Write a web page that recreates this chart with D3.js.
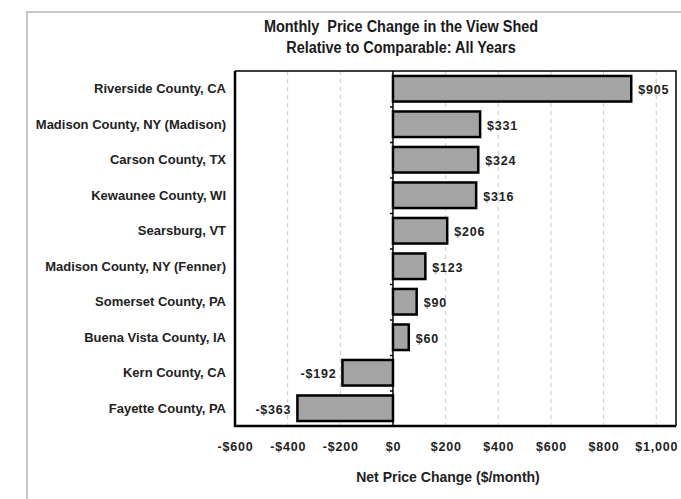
<!DOCTYPE html>
<html>
<head>
<meta charset="utf-8">
<script src="https://cdn.jsdelivr.net/npm/d3@7"></script>
<style>
	body { margin: 0; background: #fff; }
	svg { display: block; font-family: "Liberation Sans", Arial, sans-serif; }
</style>
</head>
<body>
<div id="chart"></div>
<script>

const title_lines = [ "Monthly  Price Change in the View Shed", "Relative to Comparable: All Years" ];
const axis_title = "Net Price Change ($/month)";

const places = [
	"Riverside County, CA",
	"Madison County, NY (Madison)",
	"Carson County, TX",
	"Kewaunee County, WI",
	"Searsburg, VT",
	"Madison County, NY (Fenner)",
	"Somerset County, PA",
	"Buena Vista County, IA",
	"Kern County, CA",
	"Fayette County, PA"
];
const price_change = [ 905, 331, 324, 316, 206, 123, 90, 60, -192, -363 ];
const x_ticks = [ -600, -400, -200, 0, 200, 400, 600, 800, 1000 ];
const x_domain = [ -600, 1075 ];

///////////////////////////////////////////////////////////////////////

function draw_chart( plot_div_id )	{

	let width = 681, height = 499;
	let plot = { left: 235, right: 676, top: 71, bottom: 426 };

	let svg = d3.select( "#" + plot_div_id )
		.append( "svg" )
			.attr( "width", width )
			.attr( "height", height );

	// outer frame (only top and left edges show)
	svg.append( "path" )
		.attr( "d", "M27,499 V12 H681" )
		.attr( "fill", "none" )
		.attr( "stroke", "#b4b4b4" )
		.attr( "stroke-width", 1.5 );

	// title, condensed
	let title = svg.append( "g" )
		.attr( "transform", "translate(401,0) scale(0.85,1)" );
	title.selectAll( "text" )
		.data( title_lines )
		.join( "text" )
			.attr( "x", 0 )
			.attr( "y", ( d, i ) => 32 + i * 21 )
			.attr( "text-anchor", "middle" )
			.attr( "font-size", 17 )
			.attr( "font-weight", "bold" )
			.attr( "fill", "#1a1a1a" )
			.style( "white-space", "pre" )
			.text( d => d );

	let x = d3.scaleLinear()
		.domain( x_domain )
		.range( [ plot.left, plot.right ] );

	let y = d3.scaleBand()
		.domain( places )
		.range( [ plot.top, plot.bottom ] )
		.paddingInner( 0.28 )
		.paddingOuter( 0.14 );

	// dashed grid
	svg.append( "g" )
		.selectAll( "line" )
		.data( x_ticks.filter( v => v != 0 && v != x_domain[ 0 ] ) )
		.join( "line" )
			.attr( "x1", d => x( d ) )
			.attr( "x2", d => x( d ) )
			.attr( "y1", plot.top )
			.attr( "y2", plot.bottom )
			.attr( "stroke", "#c8c8c8" )
			.attr( "stroke-width", 1 )
			.attr( "stroke-dasharray", "4,4" );

	// zero axis with ticks between categories
	let y_axis = d3.axisLeft( d3.scaleLinear().domain( [ 0, places.length ] ).range( [ plot.top, plot.bottom ] ) )
		.tickValues( d3.range( 1, places.length ) )
		.tickSize( 3 )
		.tickFormat( "" );
	let ya = svg.append( "g" )
		.attr( "transform", "translate(" + x( 0 ) + ",0)" )
		.call( y_axis );
	ya.select( ".domain" ).remove();
	ya.selectAll( "line" ).attr( "stroke", "#000" ).attr( "stroke-width", 1.5 );

	svg.append( "line" )
		.attr( "x1", x( 0 ) ).attr( "x2", x( 0 ) )
		.attr( "y1", plot.top ).attr( "y2", plot.bottom )
		.attr( "stroke", "#000" )
		.attr( "stroke-width", 1.5 );

	// bars
	svg.append( "g" )
		.selectAll( "rect" )
		.data( places )
		.join( "rect" )
			.attr( "x", ( d, i ) => x( Math.min( 0, price_change[ i ] ) ) )
			.attr( "width", ( d, i ) => Math.abs( x( price_change[ i ] ) - x( 0 ) ) )
			.attr( "y", d => y( d ) )
			.attr( "height", y.bandwidth() )
			.attr( "fill", "#a4a4a4" )
			.attr( "stroke", "#000" )
			.attr( "stroke-width", 2.5 );

	// value labels
	let fmt = v => ( v < 0 ? "-$" : "$" ) + d3.format( "," )( Math.abs( v ) );
	svg.append( "g" )
		.selectAll( "text" )
		.data( places )
		.join( "text" )
			.attr( "x", ( d, i ) => price_change[ i ] < 0 ? x( price_change[ i ] ) - 6 : x( price_change[ i ] ) + 7 )
			.attr( "y", d => y( d ) + y.bandwidth() / 2 + 1 )
			.attr( "dy", "0.35em" )
			.attr( "text-anchor", ( d, i ) => price_change[ i ] < 0 ? "end" : "start" )
			.attr( "font-size", 12.5 )
			.attr( "font-weight", "bold" )
			.attr( "letter-spacing", 0.8 )
			.attr( "fill", "#222" )
			.text( ( d, i ) => fmt( price_change[ i ] ) );

	// category labels
	svg.append( "g" )
		.selectAll( "text" )
		.data( places )
		.join( "text" )
			.attr( "x", 226 )
			.attr( "y", d => y( d ) + y.bandwidth() / 2 )
			.attr( "dy", "0.35em" )
			.attr( "text-anchor", "end" )
			.attr( "font-size", 13 )
			.attr( "font-weight", "bold" )
			.attr( "fill", "#222" )
			.text( d => d );

	// bottom axis
	let x_axis = d3.axisBottom( x )
		.tickValues( x_ticks )
		.tickSize( 0 )
		.tickPadding( 16 )
		.tickFormat( fmt );
	let xa = svg.append( "g" )
		.attr( "transform", "translate(0," + plot.bottom + ")" )
		.call( x_axis );
	xa.select( ".domain" ).remove();
	xa.selectAll( "text" )
		.attr( "font-family", "Liberation Sans, Arial, sans-serif" )
		.attr( "font-size", 12.5 )
		.attr( "font-weight", "bold" )
		.attr( "letter-spacing", 0.8 )
		.attr( "fill", "#222" );

	svg.append( "text" )
		.attr( "x", 448 )
		.attr( "y", 482 )
		.attr( "text-anchor", "middle" )
		.attr( "font-size", 14 )
		.attr( "font-weight", "bold" )
		.attr( "fill", "#222" )
		.text( axis_title );

	// plot border: heavy left and bottom, lighter top and right
	svg.append( "path" )
		.attr( "d", "M" + plot.left + "," + plot.top + " H" + plot.right + " V" + plot.bottom )
		.attr( "fill", "none" )
		.attr( "stroke", "#000" )
		.attr( "stroke-width", 1.5 );
	svg.append( "path" )
		.attr( "d", "M" + plot.left + "," + plot.top + " V" + plot.bottom + " H" + plot.right )
		.attr( "fill", "none" )
		.attr( "stroke", "#000" )
		.attr( "stroke-width", 2.5 );
}

draw_chart( "chart" );

</script>
</body>
</html>
